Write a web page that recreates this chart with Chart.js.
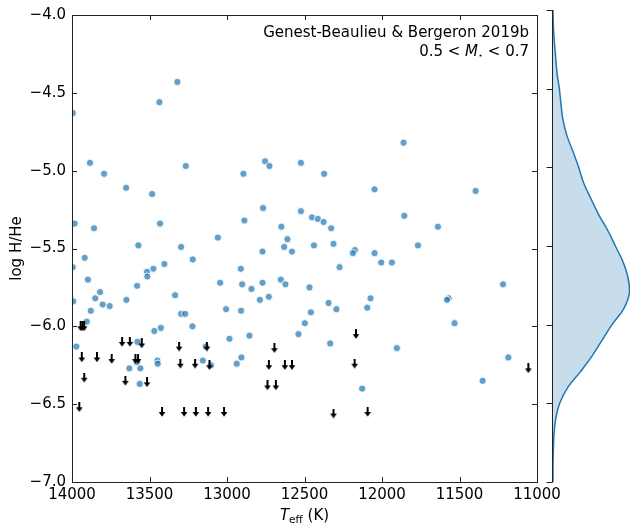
<!DOCTYPE html>
<html lang="en">
<head>
  <meta charset="UTF-8" />
  <title>log H/He vs Teff</title>
  <script src="https://cdn.jsdelivr.net/npm/chart.js"></script>
  <style>
    body {
      margin: 0;
      background: #fff;
    }
    .wrap {
      position: relative;
      width: 630px;
      height: 530px;
    }
    .wrap canvas {
      position: absolute;
      left: 0;
      top: 0;
    }
  </style>
</head>
<body>
  <div class="wrap">
    <canvas id="mainChart" width="630" height="530"></canvas>
    <canvas id="kdeChart" width="630" height="530"></canvas>
  </div>

  <script>
    // measured white dwarfs (Teff, log H/He)
    const tempPts = [
      13995, 13436, 13320, 13884, 13793, 13266, 13651, 13483, 13983, 13858,
      13432, 13572, 13296, 13059, 13918, 13995, 13221, 13404, 13475, 13516,
      13514, 13897, 13580, 13044, 13819, 13850, 13992, 13649, 13335, 13802,
      13757, 13006, 13879, 13296, 13270, 13905, 13223, 13427, 13469, 12984,
      13578, 13972, 13137, 13449, 13447, 13156, 13582, 13630, 13559, 13104,
      13563,
      12754, 12726, 12523, 12894, 12373, 12048, 12767, 12523, 12888, 12452,
      12414, 12377, 12328, 12649, 12610, 12631, 12771, 12581, 12439, 12313,
      12175, 12188, 12048,
      12274, 12911, 12902, 12842, 12771, 12653, 12623, 12468, 12788, 12730,
      12909, 12345, 12294, 12074, 12095, 12459, 12498, 12539, 12855, 12334,
      12907, 12937, 12128, 12005,
      11861, 11396, 11856, 11639, 11768, 11936, 11219, 11570, 11581, 11532,
      11904, 11185, 11351
    ];
    const logPts = [
      -4.63, -4.56, -4.43, -4.95, -5.02, -4.97, -5.11, -5.15, -5.34, -5.37,
      -5.34, -5.48, -5.49, -5.43, -5.56, -5.62, -5.57, -5.60, -5.63, -5.65,
      -5.68, -5.70, -5.74, -5.72, -5.78, -5.82, -5.84, -5.83, -5.80, -5.86,
      -5.87, -5.89, -5.90, -5.92, -5.92, -5.97, -6.00, -6.01, -6.03, -6.08,
      -6.10, -6.13, -6.13, -6.22, -6.24, -6.22, -6.23, -6.27, -6.27, -6.25,
      -6.37,
      -4.94, -4.97, -4.95, -5.02, -5.02, -5.12, -5.24, -5.26, -5.32, -5.30,
      -5.31, -5.33, -5.37, -5.36, -5.44, -5.49, -5.52, -5.52, -5.48, -5.47,
      -5.51, -5.53, -5.53,
      -5.62, -5.63, -5.73, -5.76, -5.72, -5.70, -5.73, -5.75, -5.83, -5.81,
      -5.90, -5.85, -5.89, -5.82, -5.88, -5.91, -5.98, -6.05, -6.06, -6.11,
      -6.20, -6.24, -6.40, -5.59,
      -4.82, -5.13, -5.29, -5.36, -5.48, -5.59, -5.73, -5.82, -5.83, -5.98,
      -6.14, -6.20, -6.35
    ];

    // upper limits (drawn as down arrows)
    const tempLim = [
      13944, 13933, 13922, 13677, 13627, 13550, 13309, 13130, 13937, 13839,
      13744, 13591, 13574, 13301, 13206, 13113, 13921, 13656, 13516, 13953,
      13419, 13277, 13201, 13122, 13019, 12694, 12168, 12730, 12627, 12581,
      12177, 12739, 12685, 12313, 12093, 11056
    ];
    const logLim = [
      -6.00, -6.00, -6.00, -6.10, -6.10, -6.11, -6.13, -6.13, -6.20, -6.20,
      -6.21, -6.21, -6.21, -6.24, -6.24, -6.25, -6.33, -6.35, -6.36, -6.52,
      -6.55, -6.55, -6.55, -6.55, -6.55, -6.14, -6.05, -6.25, -6.25, -6.25,
      -6.24, -6.38, -6.38, -6.56, -6.55, -6.27
    ];

    // marginal density of log H/He
    const kdeLog = [
      -4.0, -4.1, -4.2, -4.3, -4.4, -4.5, -4.6, -4.7, -4.8, -4.9,
      -5.0, -5.1, -5.2, -5.3, -5.4, -5.5, -5.6, -5.7, -5.8, -5.9,
      -6.0, -6.1, -6.2, -6.3, -6.4, -6.5, -6.6, -6.7, -6.8, -6.9, -7.0
    ];
    const kdeDens = [
      0, 1, 4, 8, 12, 19, 24, 30, 42, 60,
      77, 92, 114, 137, 164, 187, 210, 225, 229, 212,
      177, 147, 117, 82, 44, 20, 8, 3, 1, 0, 0
    ];

    const xTickValues = [14000, 13500, 13000, 12500, 12000, 11500, 11000];
    const yTickValues = [-7.0, -6.5, -6.0, -5.5, -5.0, -4.5, -4.0];

    const FONT = "DejaVu Sans";
    const INK = "#222";

    // small black down arrow used as marker
    function makeArrow() {
      const c = document.createElement("canvas");
      c.width = 8;
      c.height = 10;
      const g = c.getContext("2d");
      g.fillStyle = "#000";
      g.fillRect(3, 0, 2, 6);
      g.beginPath();
      g.moveTo(0.7, 5);
      g.lineTo(7.3, 5);
      g.lineTo(4, 9.8);
      g.closePath();
      g.fill();
      return c;
    }

    const minus = v => (v < 0 ? "\u2212" : "") + Math.abs(v).toFixed(1);

    // frame with inward ticks on all four sides, axis titles and the label
    const mainDecor = {
      id: "mainDecor",
      afterDraw(chart) {
        const { ctx, chartArea: a, scales } = chart;
        ctx.save();
        ctx.strokeStyle = INK;
        ctx.lineWidth = 1;
        ctx.strokeRect(a.left + 0.5, a.top + 0.5, a.right - a.left, a.bottom - a.top);
        ctx.beginPath();
        scales.x.ticks.forEach(t => {
          const px = Math.round(scales.x.getPixelForValue(t.value)) + 0.5;
          ctx.moveTo(px, a.bottom);
          ctx.lineTo(px, a.bottom - 5);
          ctx.moveTo(px, a.top);
          ctx.lineTo(px, a.top + 5);
        });
        scales.y.ticks.forEach(t => {
          const py = Math.round(scales.y.getPixelForValue(t.value)) + 0.5;
          ctx.moveTo(a.left, py);
          ctx.lineTo(a.left + 5, py);
          ctx.moveTo(a.right, py);
          ctx.lineTo(a.right - 5, py);
        });
        ctx.stroke();

        ctx.fillStyle = "#000";
        ctx.textBaseline = "alphabetic";

        // x title: T_eff (K)
        const big = "15px '" + FONT + "'";
        const itBig = "italic 15px '" + FONT + "'";
        const small = "10.5px '" + FONT + "'";
        ctx.font = itBig;
        const wT = ctx.measureText("T").width;
        ctx.font = small;
        const wSub = ctx.measureText("eff").width;
        ctx.font = big;
        const wK = ctx.measureText(" (K)").width;
        let x0 = (a.left + a.right) / 2 - (wT + wSub + wK) / 2;
        ctx.textAlign = "left";
        ctx.font = itBig;
        ctx.fillText("T", x0, 520);
        ctx.font = small;
        ctx.fillText("eff", x0 + wT, 523);
        ctx.font = big;
        ctx.fillText(" (K)", x0 + wT + wSub, 520);

        // y title
        ctx.save();
        ctx.translate(21, (a.top + a.bottom) / 2);
        ctx.rotate(-Math.PI / 2);
        ctx.textAlign = "center";
        ctx.font = big;
        ctx.fillText("log H/He", 0, 0);
        ctx.restore();

        // reference label, right aligned
        ctx.textAlign = "right";
        ctx.font = big;
        ctx.fillText("Genest-Beaulieu & Bergeron 2019b", 529, 36.5);
        const parts = [
          ["0.5 < ", big, 0],
          ["M", itBig, 0],
          ["\u22c6", "8px '" + FONT + "'", 2],
          [" < 0.7", big, 0]
        ];
        let w = 0;
        parts.forEach(p => { ctx.font = p[1]; w += ctx.measureText(p[0]).width; });
        let xp = 529 - w;
        ctx.textAlign = "left";
        parts.forEach(p => {
          ctx.font = p[1];
          ctx.fillText(p[0], xp, 56 + p[2]);
          xp += ctx.measureText(p[0]).width;
        });
        ctx.restore();
      }
    };

    new Chart(document.getElementById("mainChart"), {
      type: "scatter",
      data: {
        datasets: [
          {
            label: "upper limits",
            data: tempLim.map((t, i) => ({ x: t, y: logLim[i] })),
            pointStyle: makeArrow(),
            pointRadius: 5,
            order: 0
          },
          {
            label: "measured",
            data: tempPts.map((t, i) => ({ x: t, y: logPts[i] })),
            pointRadius: 3.6,
            backgroundColor: "rgba(31, 119, 180, 0.7)",
            borderColor: "rgba(255, 255, 255, 0.85)",
            borderWidth: 1,
            order: 1
          }
        ]
      },
      options: {
        responsive: false,
        animation: false,
        layout: { padding: { top: 10, right: 93, left: 0, bottom: 0 } },
        plugins: {
          legend: { display: false },
          tooltip: { enabled: false }
        },
        scales: {
          x: {
            type: "linear",
            reverse: true,
            min: 11000,
            max: 14000,
            afterBuildTicks: s => { s.ticks = xTickValues.map(v => ({ value: v })); },
            afterFit: s => { s.height = 48; },
            grid: { display: false, drawTicks: false },
            border: { display: false },
            ticks: {
              padding: 4,
              maxRotation: 0,
              autoSkip: false,
              color: "#000",
              font: { family: FONT, size: 15 },
              callback: v => String(v)
            }
          },
          y: {
            type: "linear",
            min: -7,
            max: -4,
            afterBuildTicks: s => { s.ticks = yTickValues.map(v => ({ value: v })); },
            afterFit: s => { s.width = 72; },
            grid: { display: false, drawTicks: false },
            border: { display: false },
            ticks: {
              padding: 6,
              autoSkip: false,
              color: "#000",
              font: { family: FONT, size: 15 },
              callback: v => minus(v)
            }
          }
        }
      },
      plugins: [mainDecor]
    });

    // side panel: only a left spine with outward ticks
    const kdeDecor = {
      id: "kdeDecor",
      afterDraw(chart) {
        const { ctx, chartArea: a, scales } = chart;
        const sx = a.left - 0.5;
        ctx.save();
        ctx.strokeStyle = INK;
        ctx.lineWidth = 1;
        ctx.beginPath();
        ctx.moveTo(sx, a.top);
        ctx.lineTo(sx, a.bottom + 0.5);
        scales.y.ticks.forEach(t => {
          const py = Math.round(scales.y.getPixelForValue(t.value)) + 0.5;
          ctx.moveTo(sx, py);
          ctx.lineTo(sx - 6, py);
        });
        ctx.stroke();
        ctx.restore();
      }
    };

    new Chart(document.getElementById("kdeChart"), {
      type: "scatter",
      data: {
        datasets: [{
          label: "density",
          data: kdeDens.map((d, i) => ({ x: d, y: kdeLog[i] })),
          showLine: true,
          pointRadius: 0,
          tension: 0.4,
          borderColor: "#1f77b4",
          borderWidth: 1.5,
          backgroundColor: "rgba(31, 119, 180, 0.25)",
          fill: "shape"
        }]
      },
      options: {
        responsive: false,
        animation: false,
        layout: { padding: { top: 10, right: 0, left: 553, bottom: 48 } },
        plugins: {
          legend: { display: false },
          tooltip: { enabled: false }
        },
        scales: {
          x: { type: "linear", min: 0, max: 231, display: false },
          y: {
            type: "linear",
            min: -7,
            max: -4,
            display: false,
            afterBuildTicks: s => { s.ticks = yTickValues.map(v => ({ value: v })); }
          }
        }
      },
      plugins: [kdeDecor]
    });
  </script>
</body>
</html>
